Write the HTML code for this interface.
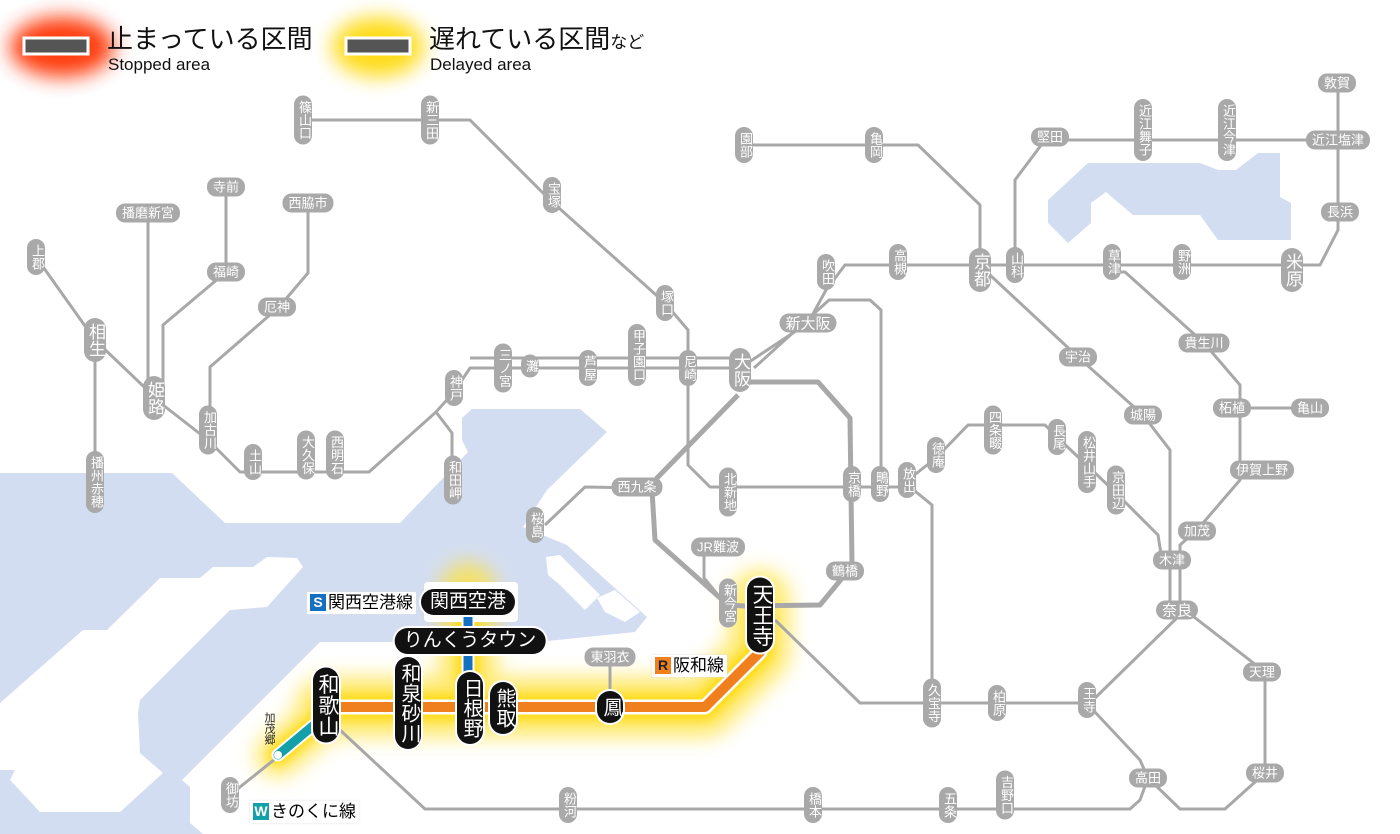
<!DOCTYPE html>
<html><head><meta charset="utf-8"><style>
html,body{margin:0;padding:0;background:#fff}
#m{position:relative;width:1400px;height:834px;overflow:hidden;font-family:"Liberation Sans","Noto Sans CJK JP",sans-serif}
svg{position:absolute;left:0;top:0}
.s{position:absolute;background:#a9a9a9;color:#fff;font-size:13px;line-height:15px;border-radius:9px;transform:translate(-50%,-50%);white-space:nowrap;text-align:center}
.v{writing-mode:vertical-rl;text-orientation:upright;width:18px;padding:5px 0}
.h{padding:2px 6px;height:15px}
.L{font-size:17px;line-height:21px;border-radius:11px}
.L.v{width:22px}
.b{position:absolute;background:#111;color:#fff;font-size:20px;line-height:24px;border-radius:13px;transform:translate(-50%,-50%);white-space:nowrap;text-align:center;box-shadow:0 0 0 2px #fff}
.b.v{writing-mode:vertical-rl;text-orientation:upright;width:26px;padding:6px 0}
.b.h{padding:0 9px;font-size:19px;height:26px;line-height:26px;overflow:hidden}
.t{position:absolute;white-space:nowrap}
.lab{position:absolute;background:#fff;font-size:17px;line-height:22px;padding:0 3px;white-space:nowrap;box-shadow:0 0 2px #ddd}
.lab i{font-style:normal;color:#fff;font-weight:bold;display:inline-block;width:16px;height:17px;line-height:17px;text-align:center;font-size:14px;margin-right:2px;vertical-align:1px}
</style></head><body><div id="m">
<svg width="1400" height="834" viewBox="0 0 1400 834">
<defs>
<filter id="bl" x="-50%" y="-50%" width="200%" height="200%"><feGaussianBlur stdDeviation="10"/></filter>
<filter id="bl2" x="-50%" y="-50%" width="200%" height="200%"><feGaussianBlur stdDeviation="5"/></filter>
</defs>
<g fill="#d3ddf2">
<polygon points="0,473 172,473 225,523 400,523 468,452 462,440 462,418 472,409 580,409 607,432 547,490 523,527 567,545 647,617 635,632 538,642 320,642 182,780 190,787 190,823 203,834 0,834"/>
<polygon points="1088,163 1200,163 1218,170 1236,170 1258,153 1280,153 1280,197 1291,203 1291,240 1218,240 1200,215 1133,215 1106,192 1091,203 1091,223 1068,243 1048,223 1048,200"/>
</g>
<g fill="#fff">
<polygon points="267,557 297,558 303,567 267,607 230,610 140,700 138,713 140,753 163,773 120,812 40,812 10,780 15,770 0,770 0,703 83,630 107,630 160,578 200,578 213,567 253,567"/>
<polygon points="546,557 560,555 600,595 585,610 560,585 548,575"/>
<polygon points="597,598 615,590 640,612 625,622 605,612"/>
<polygon points="590,500 595,515 565,540 558,535"/>
</g>
<ellipse cx="62" cy="47" rx="52" ry="30" fill="#ff3000" filter="url(#bl)" opacity=".95"/>
<ellipse cx="378" cy="47" rx="46" ry="30" fill="#ffd800" filter="url(#bl)" opacity=".9"/>
<rect x="24" y="38" width="64" height="16" fill="#555" stroke="#fff" stroke-width="3"/>
<rect x="346" y="38" width="64" height="16" fill="#555" stroke="#fff" stroke-width="3"/>
<g fill="none" stroke="#ffe23a" stroke-linecap="round" stroke-linejoin="round" filter="url(#bl)" opacity=".75">
<polyline points="326,707 705,707 760,652 760,600" stroke-width="60"/>
<polyline points="468,590 468,707" stroke-width="56"/>
<polyline points="326,715 278,755" stroke-width="44"/>
</g>
<g fill="none" stroke="#ffd800" stroke-linecap="round" stroke-linejoin="round" filter="url(#bl2)" opacity=".8">
<polyline points="326,707 705,707 760,652 760,615" stroke-width="26"/>
<polyline points="468,600 468,707" stroke-width="22"/>
<polyline points="326,715 278,755" stroke-width="20"/>
</g>
<rect x="424" y="582" width="94" height="40" rx="4" fill="#fff"/>
<g fill="none" stroke="#a8a8a8" stroke-width="3" stroke-linejoin="round">
<polyline points="303,120 470,120 550,200 665,303 688,330 688,465 710,487 910,487"/>
<polyline points="36,257 95,340 163,405 208,440 240,472 369,472 436,412 454,392 470,368 740,368"/>
<polyline points="470,358 740,358"/>
<polyline points="95,340 95,482"/>
<polyline points="436,412 452,433 452,480"/>
<polyline points="226,187 226,272 163,325 163,395"/>
<polyline points="148,213 148,390"/>
<polyline points="308,203 308,273 279,307 210,367 210,430"/>
<polyline points="740,368 808,323 826,290 845,265 1320,265 1338,230 1338,83"/>
<polyline points="754,368 829,300 870,300 881,310 881,487"/>
<polyline points="744,145 918,145 980,205 980,265"/>
<polyline points="1015,265 1015,180 1045,140 1338,140"/>
<polyline points="990,275 1078,357 1143,415 1170,450 1170,610"/>
<polyline points="1112,272 1125,272 1204,343 1240,385 1240,480 1197,530 1180,545 1180,610"/>
<polyline points="1240,408 1310,408"/>
<polyline points="1185,610 1265,672 1265,773 1225,809 1180,809 1148,778"/>
<polyline points="1185,610 1093,700"/>
<polyline points="1093,710 1140,760 1148,778 1140,800 1130,809 425,809 340,730"/>
<polyline points="1093,703 860,703 775,620"/>
<polyline points="910,487 932,505 932,700"/>
<polyline points="908,480 936,458 968,425 1045,425 1057,437 1113,490 1158,535 1162,560"/>
<polyline points="643,488 585,487 545,525"/>
<polyline points="704,553 704,578 718,595 728,600"/>
<polyline points="280,755 230,795"/>
<polyline points="610,657 610,690"/>
</g>
<g fill="none" stroke="#a8a8a8" stroke-width="5" stroke-linejoin="round">
<polyline points="740,382 818,382 850,418 852,565 848,571 820,605 745,606 728,605 655,540 652,490 657,478 738,395"/>
</g>
<g fill="none" stroke-linecap="round" stroke-linejoin="round">
<polyline points="326,707 705,707 760,652 760,615" stroke="#fff" stroke-width="15"/>
<polyline points="326,707 705,707 760,652 760,615" stroke="#f07f1e" stroke-width="10"/>
<line x1="468" y1="600" x2="468" y2="700" stroke="#fff" stroke-width="13"/>
<line x1="468" y1="600" x2="468" y2="700" stroke="#1570c0" stroke-width="9"/>
<line x1="326" y1="715" x2="278" y2="755" stroke="#fff" stroke-width="13"/>
<line x1="326" y1="715" x2="278" y2="755" stroke="#14a0a8" stroke-width="9"/>
</g>
<circle cx="278" cy="755" r="4" fill="#fff"/>
</svg>
<div class="t" style="left:107px;top:24px;font-size:26px;line-height:30px;color:#111">止まっている区間</div>
<div class="t" style="left:108px;top:55px;font-size:17px;line-height:20px;color:#111">Stopped area</div>
<div class="t" style="left:429px;top:24px;font-size:26px;line-height:30px;color:#111">遅れている区間<span style="font-size:17px">など</span></div>
<div class="t" style="left:430px;top:55px;font-size:17px;line-height:20px;color:#111">Delayed area</div>

<div class="s v" style="left:303px;top:120px">篠山口</div>
<div class="s v" style="left:430px;top:120px">新三田</div>
<div class="s v" style="left:552px;top:195px">宝塚</div>
<div class="s v" style="left:665px;top:303px">塚口</div>
<div class="s v" style="left:36px;top:257px">上郡</div>
<div class="s v L" style="left:95px;top:340px">相生</div>
<div class="s v L" style="left:154px;top:398px">姫路</div>
<div class="s v" style="left:208px;top:430px">加古川</div>
<div class="s v" style="left:253px;top:462px">土山</div>
<div class="s v" style="left:306px;top:455px">大久保</div>
<div class="s v" style="left:335px;top:455px">西明石</div>
<div class="s v" style="left:454px;top:388px">神戸</div>
<div class="s v" style="left:503px;top:368px">三ノ宮</div>
<div class="s v" style="left:530px;top:366px">灘</div>
<div class="s v" style="left:588px;top:368px">芦屋</div>
<div class="s v" style="left:637px;top:355px">甲子園口</div>
<div class="s v" style="left:688px;top:368px">尼崎</div>
<div class="s v L" style="left:740px;top:370px">大阪</div>
<div class="s v" style="left:453px;top:480px">和田岬</div>
<div class="s v" style="left:95px;top:482px">播州赤穂</div>
<div class="s v" style="left:535px;top:525px">桜島</div>
<div class="s v" style="left:728px;top:492px">北新地</div>
<div class="s v" style="left:852px;top:484px">京橋</div>
<div class="s v" style="left:880px;top:484px">鴫野</div>
<div class="s v" style="left:907px;top:480px">放出</div>
<div class="s v" style="left:936px;top:455px">徳庵</div>
<div class="s v" style="left:993px;top:430px">四条畷</div>
<div class="s v" style="left:1057px;top:437px">長尾</div>
<div class="s v" style="left:1087px;top:462px">松井山手</div>
<div class="s v" style="left:1116px;top:490px">京田辺</div>
<div class="s v" style="left:728px;top:603px">新今宮</div>
<div class="s v" style="left:932px;top:703px">久宝寺</div>
<div class="s v" style="left:997px;top:703px">柏原</div>
<div class="s v" style="left:1087px;top:700px">王寺</div>
<div class="s v" style="left:568px;top:805px">粉河</div>
<div class="s v" style="left:813px;top:805px">橋本</div>
<div class="s v" style="left:948px;top:805px">五条</div>
<div class="s v" style="left:1005px;top:795px">吉野口</div>
<div class="s v" style="left:230px;top:795px">御坊</div>
<div class="s v" style="left:744px;top:145px">園部</div>
<div class="s v" style="left:874px;top:145px">亀岡</div>
<div class="s v" style="left:826px;top:272px">吹田</div>
<div class="s v" style="left:898px;top:262px">高槻</div>
<div class="s v L" style="left:980px;top:270px">京都</div>
<div class="s v" style="left:1015px;top:265px">山科</div>
<div class="s v" style="left:1143px;top:130px">近江舞子</div>
<div class="s v" style="left:1227px;top:130px">近江今津</div>
<div class="s v" style="left:1112px;top:262px">草津</div>
<div class="s v" style="left:1182px;top:262px">野洲</div>
<div class="s v L" style="left:1292px;top:270px">米原</div>
<div class="s h" style="left:226px;top:187px">寺前</div>
<div class="s h" style="left:148px;top:213px">播磨新宮</div>
<div class="s h" style="left:308px;top:203px">西脇市</div>
<div class="s h" style="left:226px;top:272px">福崎</div>
<div class="s h" style="left:277px;top:307px">厄神</div>
<div class="s h" style="left:637px;top:487px">西九条</div>
<div class="s h" style="left:718px;top:547px">JR難波</div>
<div class="s h" style="left:845px;top:571px">鶴橋</div>
<div class="s h L" style="left:808px;top:323px;font-size:15px;line-height:18px">新大阪</div>
<div class="s h" style="left:1078px;top:357px">宇治</div>
<div class="s h" style="left:1143px;top:415px">城陽</div>
<div class="s h" style="left:1204px;top:343px">貴生川</div>
<div class="s h" style="left:1232px;top:408px">柘植</div>
<div class="s h" style="left:1310px;top:408px">亀山</div>
<div class="s h" style="left:1262px;top:470px">伊賀上野</div>
<div class="s h" style="left:1197px;top:531px">加茂</div>
<div class="s h" style="left:1172px;top:560px">木津</div>
<div class="s h L" style="left:1177px;top:610px;font-size:15px;line-height:18px">奈良</div>
<div class="s h" style="left:1262px;top:672px">天理</div>
<div class="s h" style="left:1265px;top:773px">桜井</div>
<div class="s h" style="left:1148px;top:778px">高田</div>
<div class="s h" style="left:1050px;top:137px">堅田</div>
<div class="s h" style="left:1337px;top:83px">敦賀</div>
<div class="s h" style="left:1338px;top:140px">近江塩津</div>
<div class="s h" style="left:1340px;top:212px">長浜</div>
<div class="s h" style="left:610px;top:657px">東羽衣</div>

<div class="b h" style="left:468px;top:602px">関西空港</div>
<div class="b h" style="left:470px;top:641px">りんくうタウン</div>
<div class="b v" style="left:326px;top:705px;font-size:21px">和歌山</div>
<div class="b v" style="left:408px;top:703px">和泉砂川</div>
<div class="b v" style="left:470px;top:708px">日根野</div>
<div class="b v" style="left:503px;top:708px">熊取</div>
<div class="b v" style="left:610px;top:707px">鳳</div>
<div class="b v" style="left:760px;top:615px;font-size:21px">天王寺</div>
<div class="t" style="left:263px;top:712px;font-size:11px;line-height:12px;writing-mode:vertical-rl;text-orientation:upright;color:#222">加茂郷</div>

<div class="lab" style="left:307px;top:592px"><i style="background:#1570c0">S</i>関西空港線</div>
<div class="lab" style="left:652px;top:655px"><i style="background:#f07f1e;color:#222">R</i>阪和線</div>
<div class="lab" style="left:250px;top:801px"><i style="background:#14a0a8">W</i>きのくに線</div>
</div></body></html>
